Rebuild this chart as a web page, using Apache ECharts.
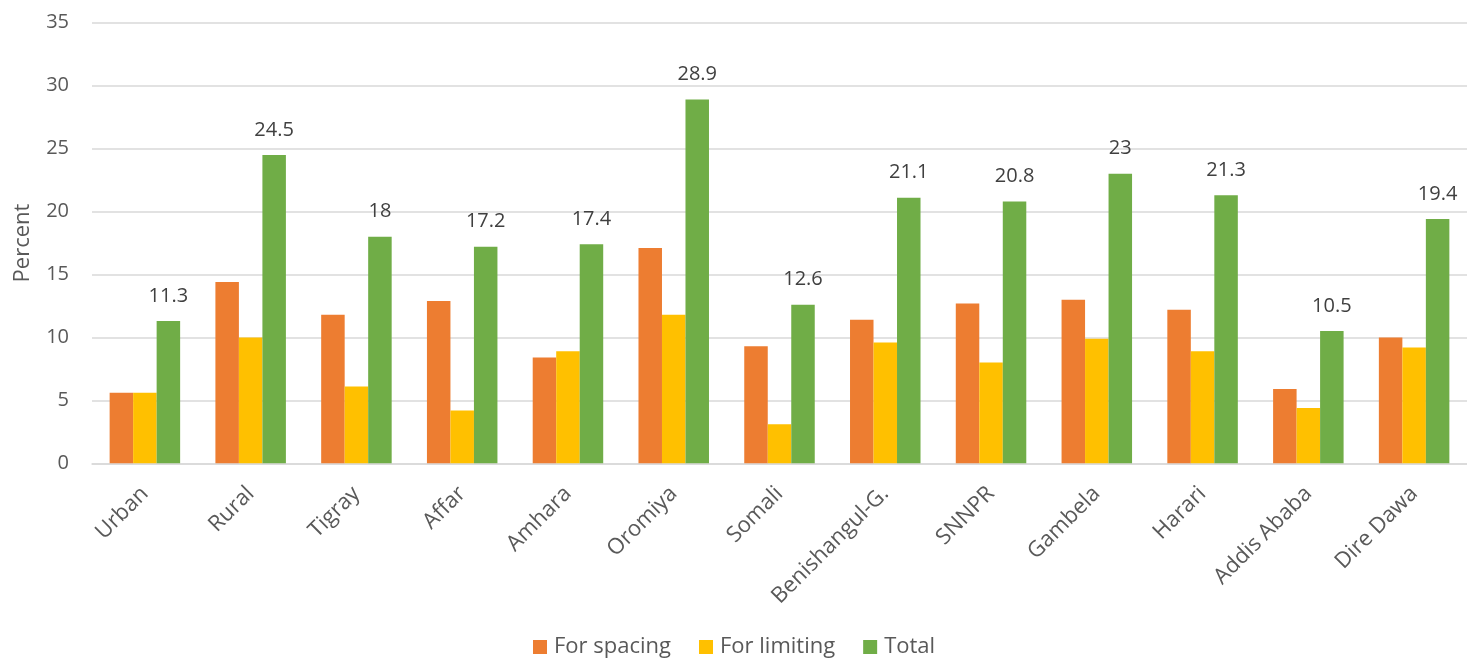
<!DOCTYPE html>
<html>
<head>
<meta charset="utf-8">
<script src="https://cdn.jsdelivr.net/npm/echarts@6/dist/echarts.min.js"></script>
<style>
  html, body { margin: 0; padding: 0; background: #fff; }
  #chart { width: 1467px; height: 661px; }
</style>
</head>
<body>
<div id="chart"></div>
<script>
const categories = ["Urban", "Rural", "Tigray", "Affar", "Amhara", "Oromiya", "Somali", "Benishangul-G.", "SNNPR", "Gambela", "Harari", "Addis Ababa", "Dire Dawa"];
const forSpacing = [5.6, 14.4, 11.8, 12.9, 8.4, 17.1, 9.3, 11.4, 12.7, 13.0, 12.2, 5.9, 10.0];
const forLimiting = [5.6, 10.0, 6.1, 4.2, 8.9, 11.8, 3.1, 9.6, 8.0, 9.9, 8.9, 4.4, 9.2];
const total = [11.3, 24.5, 18, 17.2, 17.4, 28.9, 12.6, 21.1, 20.8, 23, 21.3, 10.5, 19.4];
const yTicks = { min: 0, max: 35, interval: 5 };

const FONT = '"Open Sans", "Noto Sans", sans-serif';
const chart = echarts.init(document.getElementById('chart'), null, { renderer: 'canvas' });
chart.setOption({
  animation: false,
  backgroundColor: '#ffffff',
  textStyle: { fontFamily: FONT },
  grid: { left: 92, right: -7, top: 22.7, bottom: 197.7, containLabel: false },
  legend: {
    left: 528, top: 631,
    itemWidth: 14, itemHeight: 14, itemGap: 28,
    icon: 'rect',
    textStyle: { fontFamily: FONT, fontSize: 22, color: '#595959', padding: [0, 0, 0, 2] },
    data: ['For spacing', 'For limiting', 'Total']
  },
  xAxis: {
    type: 'category',
    data: categories,
    axisLine: { show: true, lineStyle: { color: '#D9D9D9', width: 1.5 } },
    axisTick: { show: false },
    axisLabel: { rotate: 45, margin: 27, fontFamily: FONT, fontSize: 22, color: '#595959', interval: 0 }
  },
  yAxis: {
    type: 'value',
    min: yTicks.min, max: yTicks.max, interval: yTicks.interval,
    name: 'Percent',
    nameLocation: 'middle',
    nameGap: 58,
    nameRotate: 90,
    nameTextStyle: { fontFamily: FONT, fontSize: 22, color: '#595959' },
    axisLine: { show: false },
    axisTick: { show: false },
    axisLabel: { margin: 23, fontFamily: FONT, fontSize: 20, color: '#595959' },
    splitLine: { lineStyle: { color: '#D9D9D9', width: 1.5 } }
  },
  series: [
    { name: 'For spacing', type: 'bar', data: forSpacing, barWidth: 23.5, barGap: '0%',
      itemStyle: { color: '#ED7D31' } },
    { name: 'For limiting', type: 'bar', data: forLimiting, barWidth: 23.5, barGap: '0%',
      itemStyle: { color: '#FFC000' } },
    { name: 'Total', type: 'bar', data: total, barWidth: 23.5, barGap: '0%',
      itemStyle: { color: '#70AD47' },
      label: { show: true, position: 'top', distance: 15, fontFamily: FONT, fontSize: 20, color: '#404040' } }
  ]
});
</script>
</body>
</html>
